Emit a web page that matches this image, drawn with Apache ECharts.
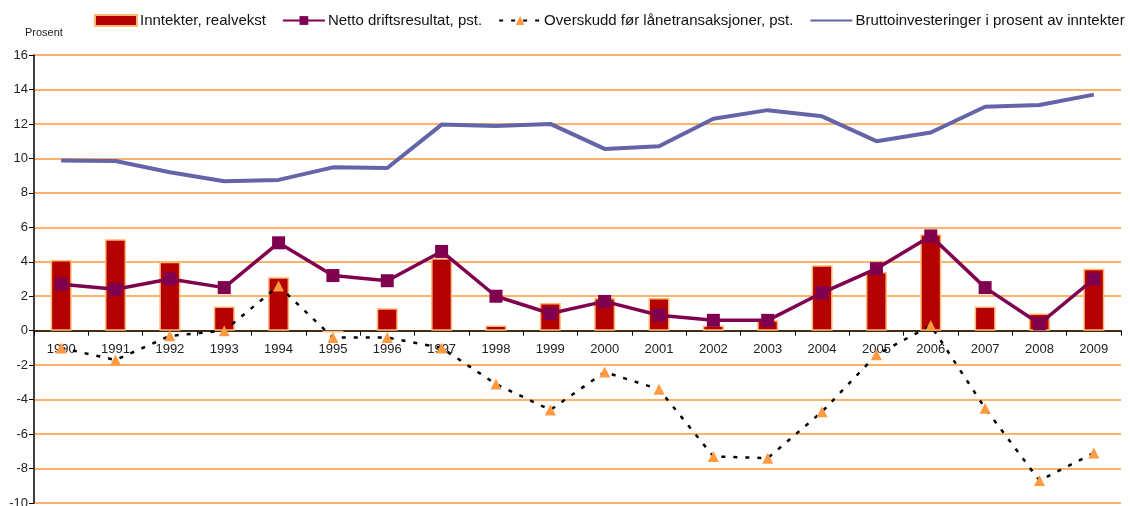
<!DOCTYPE html>
<html>
<head>
<meta charset="utf-8">
<script src="https://cdn.jsdelivr.net/npm/echarts@6/dist/echarts.min.js"></script>
<style>
    * { margin: 0; padding: 0; }
    html, body { background: #fff; }
</style>
</head>
<body>
<div id="myEchArt" style="width:1130px;height:506px;"></div>
<script>
    // år
    const years = ['1990', '1991', '1992', '1993', '1994', '1995', '1996', '1997', '1998', '1999',
        '2000', '2001', '2002', '2003', '2004', '2005', '2006', '2007', '2008', '2009'];
    // Inntekter, realvekst (søyler)
    const inntekter = [4.1, 5.3, 4.0, 1.4, 3.1, -0.1, 1.3, 4.2, 0.3, 1.6,
        1.9, 1.9, 0.3, 0.6, 3.8, 3.4, 5.6, 1.4, 1.0, 3.6];
    // Netto driftsresultat, pst.
    const netto = [2.7, 2.4, 3.0, 2.5, 5.1, 3.2, 2.9, 4.6, 2.0, 1.0,
        1.7, 0.9, 0.6, 0.6, 2.2, 3.6, 5.5, 2.5, 0.4, 3.0];
    // Overskudd før lånetransaksjoner, pst.
    const overskudd = [-1.0, -1.7, -0.3, 0.0, 2.6, -0.4, -0.4, -1.0, -3.1, -4.6,
        -2.4, -3.4, -7.3, -7.4, -4.7, -1.4, 0.3, -4.5, -8.7, -7.1];
    // Bruttoinvesteringer i prosent av inntekter
    const brutto = [9.87, 9.85, 9.2, 8.67, 8.75, 9.48, 9.44, 11.96, 11.88, 12.0,
        10.55, 10.7, 12.3, 12.8, 12.44, 11.0, 11.5, 13.0, 13.1, 13.7];
    const legendNames = ['Inntekter, realvekst', 'Netto driftsresultat, pst.',
        'Overskudd før lånetransaksjoner, pst.', 'Bruttoinvesteringer i prosent av inntekter'];

    const font = 'Arial, "Liberation Sans", sans-serif';
    let myChart = echarts.init(document.getElementById('myEchArt'));
    let option = {
        animation: false,
        textStyle: { fontFamily: font },
        title: {
            text: 'Prosent',
            left: 25,
            top: 27,
            padding: 0,
            textStyle: { fontSize: 11, fontWeight: 'normal', color: '#222', fontFamily: font }
        },
        legend: {
            data: [
                { name: legendNames[0], icon: 'rect' },
                { name: legendNames[1] },
                { name: legendNames[2] },
                { name: legendNames[3], itemStyle: { opacity: 0 } }
            ],
            left: 94,
            top: 13,
            padding: 0,
            itemWidth: 42,
            itemHeight: 11,
            itemGap: 16,
            textStyle: { fontSize: 15, color: '#111', fontFamily: font, padding: [0, 0, 0, -2] }
        },
        grid: { left: 34, right: 9, top: 55, bottom: 3, containLabel: false, outerBoundsMode: 'none' },
        xAxis: {
            type: 'category',
            data: years,
            axisLine: { onZero: true, lineStyle: { color: '#000', width: 1.5 } },
            axisTick: { show: true, length: 5, interval: 0, lineStyle: { color: '#000' } },
            // etikettene står rett under nullinjen
            axisLabel: { margin: -160, fontSize: 13, color: '#222', interval: 0 },
            splitLine: { show: false }
        },
        yAxis: {
            type: 'value',
            min: -10,
            max: 16,
            interval: 2,
            axisLine: { show: true, lineStyle: { color: '#000', width: 1.5 } },
            axisTick: { show: true, length: 5, lineStyle: { color: '#000' } },
            axisLabel: { margin: 6, fontSize: 13, color: '#222' },
            splitLine: { lineStyle: { color: '#FF9A33', width: 1.5 } }
        },
        series: [
            {
                name: legendNames[0],
                type: 'bar',
                data: inntekter,
                barWidth: 21,
                itemStyle: { color: '#B40000', borderColor: '#FFB870', borderWidth: 1.5 }
            },
            {
                name: legendNames[3],
                type: 'line',
                data: brutto,
                symbol: 'none',
                lineStyle: { color: '#6464A8', width: 4 },
                itemStyle: { color: '#6464A8' }
            },
            {
                name: legendNames[1],
                type: 'line',
                data: netto,
                symbol: 'rect',
                symbolSize: 13,
                lineStyle: { color: '#800050', width: 3.5 },
                itemStyle: { color: '#800050' }
            },
            {
                name: legendNames[2],
                type: 'line',
                data: overskudd,
                symbol: 'triangle',
                symbolSize: 11,
                lineStyle: { color: '#000', width: 2.5, type: [4, 8] },
                itemStyle: { color: '#FF9A40' }
            }
        ]
    };
    myChart.setOption(option);
</script>
</body>
</html>
